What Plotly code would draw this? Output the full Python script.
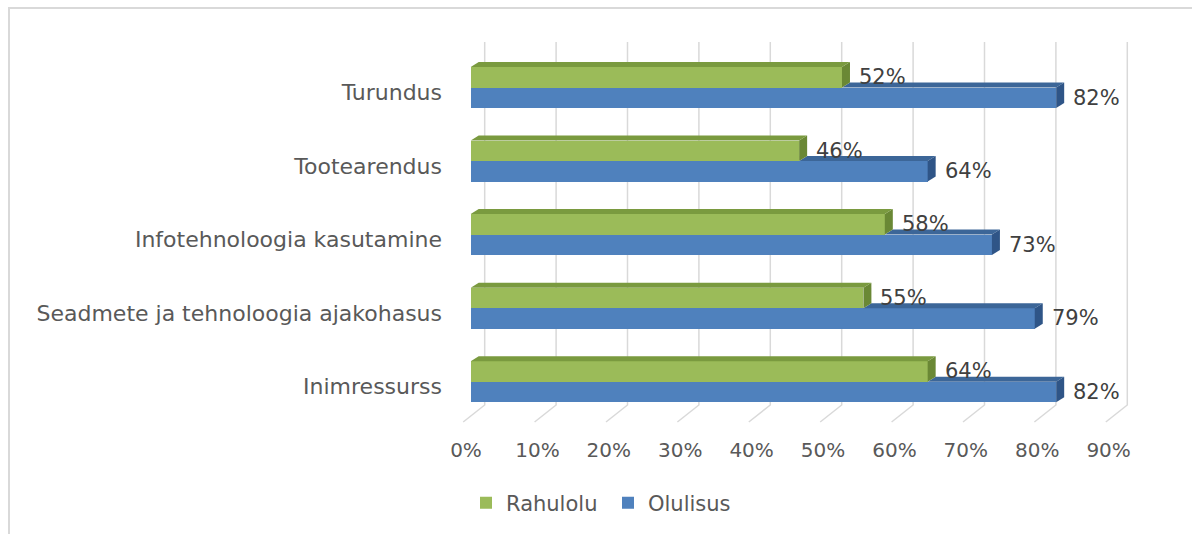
import plotly.graph_objects as go

# ---- data ----
categories = ["Turundus", "Tootearendus", "Infotehnoloogia kasutamine",
              "Seadmete ja tehnoloogia ajakohasus", "Inimressurss"]
rahulolu = [52, 46, 58, 55, 64]
olulisus = [82, 64, 73, 79, 82]
tick_vals = [0, 10, 20, 30, 40, 50, 60, 70, 80, 90]
tick_text = ["0%", "10%", "20%", "30%", "40%", "50%", "60%", "70%", "80%", "90%"]
series_names = ["Rahulolu", "Olulisus"]

# ---- geometry / style (pixel based) ----
W, H = 1192, 534
L, R, T, B = 455, 1192, 0, 428          # plot area in px
X0, PPX = 470.7, 7.14                    # px of 0 % and px per %
Y0, PPY = 381.7, 73.55                   # px of lowest category and px per category
BAR_PX = 20.5
DEPTH_DX, DEPTH_DY = 8, 5                # 3D face offsets in px

GREEN, GREEN_TOP, GREEN_SIDE = "#9BBB59", "#7A9A3F", "#6A8835"
BLUE, BLUE_TOP, BLUE_SIDE = "#4F81BD", "#3C6698", "#2F5587"
TXT = "#595959"
GRID = "#D9D9D9"
FONT = "DejaVu Sans"

xr = [(L - X0) / PPX, (R - X0) / PPX]
yr = [(Y0 - B) / PPY, (Y0 - T) / PPY]
bh = BAR_PX / PPY
ddx = DEPTH_DX / PPX
ddy = DEPTH_DY / PPY

n = len(categories)
pos = [n - 1 - i for i in range(n)]
green_c = [p + bh / 2 for p in pos]
blue_c = [p - bh / 2 for p in pos]

fig = go.Figure()

# front faces
fig.add_trace(go.Bar(name=series_names[0], y=green_c, x=rahulolu, orientation="h",
                     width=bh, marker=dict(color=GREEN, line=dict(width=0)),
                     hoverinfo="skip"))
fig.add_trace(go.Bar(name=series_names[1], y=blue_c, x=olulisus, orientation="h",
                     width=bh, marker=dict(color=BLUE, line=dict(width=0)),
                     hoverinfo="skip"))


def poly(xs, ys, color):
    fig.add_trace(go.Scatter(x=xs + [xs[0]], y=ys + [ys[0]], mode="lines", fill="toself",
                             fillcolor=color, line=dict(width=0, color=color),
                             hoverinfo="skip", showlegend=False))


for g, b, gc, bc in zip(rahulolu, olulisus, green_c, blue_c):
    btop, bbot = bc + bh / 2, bc - bh / 2
    gtop, gbot = gc + bh / 2, gc - bh / 2
    # blue top face (visible part beyond green) and side
    poly([g, g + ddx, b + ddx, b], [btop, btop + ddy, btop + ddy, btop], BLUE_TOP)
    poly([b, b + ddx, b + ddx, b], [btop, btop + ddy, bbot + ddy, bbot], BLUE_SIDE)
    # green side and top face
    poly([g, g + ddx, g + ddx, g], [gtop, gtop + ddy, gbot + ddy, gbot], GREEN_SIDE)
    poly([0, ddx, g + ddx, g], [gtop, gtop + ddy, gtop + ddy, gtop], GREEN_TOP)

# invisible trace for the tick-label axis
fig.add_trace(go.Scatter(x=[tick_vals[0]], y=[pos[-1]], xaxis="x2", mode="markers",
                         marker=dict(opacity=0), hoverinfo="skip", showlegend=False))

# data labels
for vals, cs in ((rahulolu, green_c), (olulisus, blue_c)):
    for v, c in zip(vals, cs):
        fig.add_annotation(x=v, y=c, text=f"{v}%", showarrow=False, xanchor="left",
                           yanchor="middle", xshift=15,
                           font=dict(family=FONT, size=21, color="#404040"))

# back grid + floor lines
g_top = (Y0 - 42) / PPY
g_bot = (Y0 - 405) / PPY
g_front = (Y0 - 422) / PPY
bdx = 14 / PPX
fdx = -7.5 / PPX
for t in tick_vals:
    fig.add_shape(type="path", xref="x", yref="y", layer="below",
                  path=f"M{t + bdx},{g_top} L{t + bdx},{g_bot} L{t + fdx},{g_front}",
                  line=dict(color=GRID, width=1.5))

# outer frame
def px_x(p):
    return (p - L) / (R - L)


def px_y(p):
    return (B - p) / (B - T)


fig.add_shape(type="path", xref="paper", yref="paper", layer="below",
              path=f"M{px_x(9)},{px_y(H + 10)} L{px_x(9)},{px_y(8)} L{px_x(W + 10)},{px_y(8)}",
              line=dict(color=GRID, width=2))

fig.update_layout(
    width=W, height=H, autosize=False,
    margin=dict(l=L, r=W - R, t=T, b=H - B, pad=0),
    paper_bgcolor="white", plot_bgcolor="white",
    barmode="overlay", bargap=0,
    font=dict(family=FONT, color=TXT, size=20),
    showlegend=True,
    legend=dict(orientation="h", x=px_x(466), y=px_y(503), xanchor="left", yanchor="middle",
                font=dict(family=FONT, size=21, color=TXT), bgcolor="rgba(0,0,0,0)",
                traceorder="normal", entrywidth=97),
    xaxis=dict(range=xr, showgrid=False, zeroline=False, showline=False,
               showticklabels=False, fixedrange=True),
    xaxis2=dict(range=[xr[0] + 4.7 / PPX, xr[1] + 4.7 / PPX], overlaying="x", anchor="y",
                side="bottom", showgrid=False, zeroline=False, showline=False,
                tickmode="array", tickvals=tick_vals, ticktext=tick_text, ticks="",
                ticklabelstandoff=8, tickfont=dict(family=FONT, size=20, color=TXT)),
    yaxis=dict(range=yr, showgrid=False, zeroline=False, showline=False,
               tickmode="array", tickvals=pos, ticktext=categories, ticks="",
               ticklabelstandoff=12, ticklabelshift=5,
               tickfont=dict(family=FONT, size=22, color=TXT)),
)

fig.write_html("out.html", config={"displayModeBar": False},
               post_script="document.body.style.margin='0px';document.body.style.overflow='hidden';")
